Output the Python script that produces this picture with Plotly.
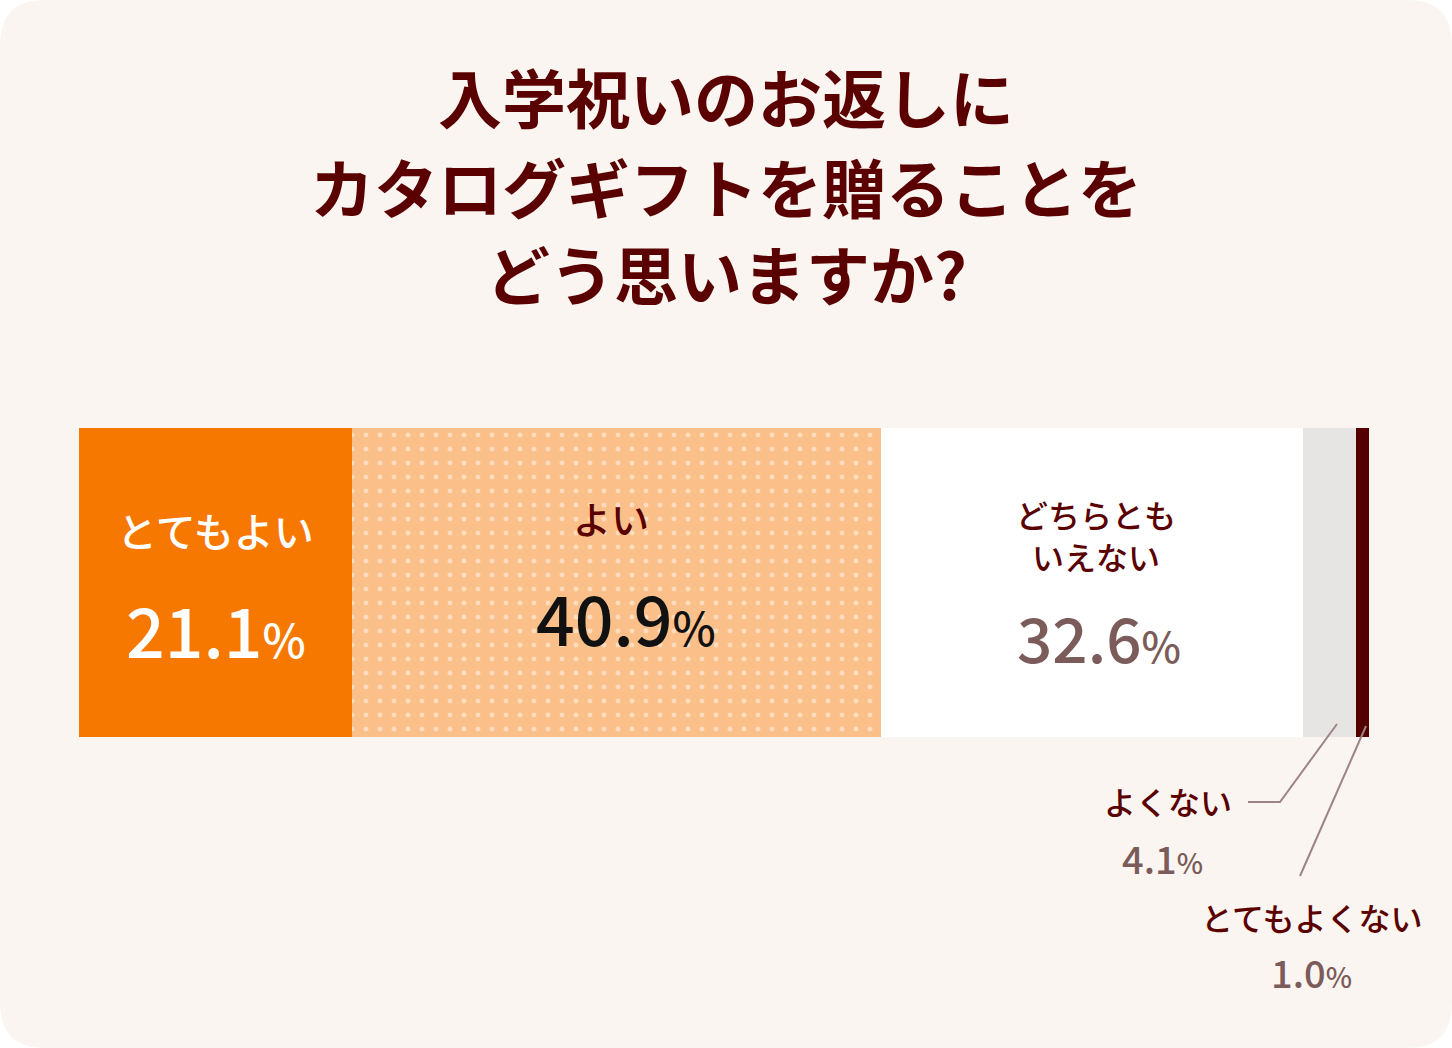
import plotly.graph_objects as go

# ---- data ----
categories = ["とてもよい", "よい", "どちらともいえない", "よくない", "とてもよくない"]
values = [21.1, 40.9, 32.6, 4.1, 1.0]
label_texts = ["とてもよい", "よい", "どちらとも<br>いえない", "よくない", "とてもよくない"]
title_lines = ["入学祝いのお返しに", "カタログギフトを贈ることを", "どう思いますか?"]

# ---- styles ----
W, H = 1452, 1048
BG = "#FBF5F1"
MAROON = "#5A0000"
GRAYTXT = "#7B5C5A"
colors = ["#F77800", "#FBC08A", "#FFFFFF", "#E7E5E3", "#550000"]
JP = "Noto Sans CJK JP"

def px(x):
    return x / W

def py(y):
    return 1 - y / H

total = sum(values)
fig = go.Figure()
for i, (cat, v) in enumerate(zip(categories, values)):
    marker = dict(color=colors[i], line=dict(width=0))
    if i == 1:
        marker["pattern"] = dict(shape=".", fgcolor="#FFFFFF", fgopacity=0.45,
                                 bgcolor=colors[i], size=14, solidity=0.1,
                                 fillmode="replace")
    fig.add_trace(go.Bar(x=[v], y=[0], orientation="h", name=cat,
                         marker=marker, hoverinfo="skip", showlegend=False))

# cumulative positions
starts = []
acc = 0
for v in values:
    starts.append(acc)
    acc += v
mids = [s + v / 2 for s, v in zip(starts, values)]

ann = []

def add(text, x, y, size, color, weight=500, xref="x"):
    ann.append(dict(text=text, x=x, y=py(y), xref=xref, yref="paper",
                    showarrow=False, xanchor="center", yanchor="middle",
                    align="center",
                    font=dict(family=JP, size=size, color=color, weight=weight)))

# title
for txt, yy in zip(title_lines, [95, 185, 272]):
    add(txt, 0.5, yy, 64, MAROON, 700, "paper")

def pct(v, psize):
    return f"{v:.1f}<span style='font-size:{psize}px'>%</span>"

# とてもよい
add(label_texts[0], mids[0], 530, 40, "#FFFFFF")
add(pct(values[0], 46), mids[0], 628, 68, "#FFFFFF")
# よい
add(label_texts[1], mids[1] - 0.4, 517, 38, MAROON)
add(pct(values[1], 46), mids[1] + 0.7, 616, 68, "#111111")
# どちらともいえない
add(label_texts[2], mids[2] + 0.3, 535, 32, MAROON)
add(pct(values[2], 42), mids[2] + 0.5, 636, 62, GRAYTXT)
# よくない
add(label_texts[3], px(1168), 801, 32, MAROON, xref="paper")
add(pct(values[3], 28), px(1162), 857, 38, GRAYTXT, xref="paper")
# とてもよくない
add(label_texts[4], px(1311), 917, 32, MAROON, xref="paper")
add(pct(values[4], 28), px(1311), 971, 38, GRAYTXT, xref="paper")

shapes = [
    # rounded card background
    dict(type="path", xref="paper", yref="paper", layer="below",
         path=(f"M {px(45)},{py(0)} L {px(W-45)},{py(0)} Q {px(W)},{py(0)} {px(W)},{py(45)} "
               f"L {px(W)},{py(H-45)} Q {px(W)},{py(H)} {px(W-45)},{py(H)} "
               f"L {px(45)},{py(H)} Q {px(0)},{py(H)} {px(0)},{py(H-45)} "
               f"L {px(0)},{py(45)} Q {px(0)},{py(0)} {px(45)},{py(0)} Z"),
         fillcolor=BG, line=dict(width=0)),
    # leader lines
    dict(type="path", xref="paper", yref="paper",
         path=f"M {px(1248)},{py(802)} L {px(1280)},{py(802)} L {px(1337)},{py(724)}",
         line=dict(color="#9C8484", width=2)),
    dict(type="line", xref="paper", yref="paper",
         x0=px(1300), y0=py(876), x1=px(1366), y1=py(726),
         line=dict(color="#9C8484", width=2)),
]

fig.update_layout(
    width=W, height=H,
    margin=dict(l=0, r=0, t=0, b=0),
    paper_bgcolor="#FFFFFF", plot_bgcolor="rgba(0,0,0,0)",
    barmode="stack", bargap=0,
    xaxis=dict(domain=[px(79), px(1369)], range=[0, total], visible=False, fixedrange=True),
    yaxis=dict(domain=[py(737), py(428)], range=[-0.5, 0.5], visible=False, fixedrange=True),
    annotations=ann, shapes=shapes,
)

fig.write_html("out.html", config={"displayModeBar": False},
               post_script="document.body.style.margin='0';document.body.style.padding='0';")
